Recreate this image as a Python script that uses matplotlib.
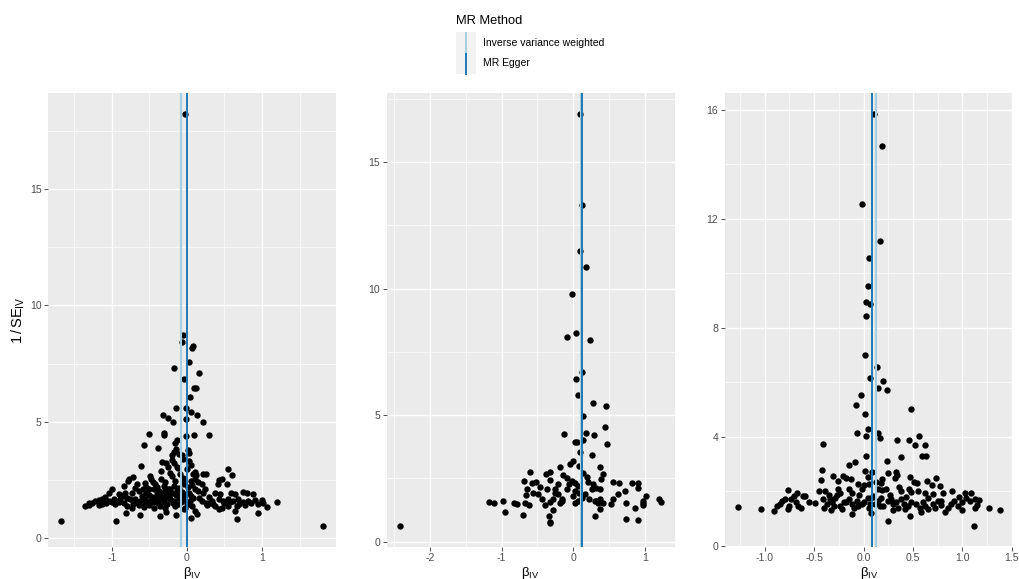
import matplotlib
matplotlib.use('Agg')
import matplotlib.pyplot as plt
import numpy as np
from matplotlib.patches import Rectangle
from matplotlib.lines import Line2D
from matplotlib.ticker import MultipleLocator

plt.rcParams['font.family'] = ['Liberation Sans', 'DejaVu Sans']
plt.rcParams['mathtext.fontset'] = 'custom'
plt.rcParams['mathtext.rm'] = 'Liberation Sans'
plt.rcParams['mathtext.it'] = 'Liberation Sans:italic'

# (beta_IV, 1/SE_IV)
panel1_points = np.array([
    (-0.02, 18.24), (-0.05, 8.72), (-0.07, 8.44), (0.08, 8.26), (0.07, 8.18), (0.027, 7.56),
    (-0.165, 7.29), (0.155, 7.10), (-0.035, 6.83), (0.10, 6.43), (0.12, 6.43), (0.035, 6.06),
    (-0.15, 5.58), (-0.01, 5.58), (0.05, 5.44), (0.13, 5.30), (-0.32, 5.28), (-0.25, 5.15),
    (-0.18, 4.98), (-0.01, 5.13), (0.22, 4.98), (-0.50, 4.47), (-0.30, 4.52), (-0.31, 4.41),
    (-0.01, 4.37), (0.10, 4.41), (0.29, 4.45),
    (-0.567, 4.01), (-0.381, 3.89), (-0.164, 4.07), (-0.133, 4.20), (-0.146, 3.81), (-0.177, 3.69),
    (-0.066, 3.55), (0.013, 3.77), (0.031, 3.67), (-0.332, 3.26), (-0.279, 3.21), (-0.199, 3.35),
    (-0.173, 3.24), (-0.128, 3.06), (0.031, 3.31), (0.058, 3.16), (-0.606, 3.09), (-0.341, 2.88),
    (-0.221, 2.81), (-0.097, 2.76), (0.111, 2.84), (0.12, 2.69), (0.208, 2.76), (0.257, 2.75),
    (0.544, 2.95), (0.606, 2.69), (-0.496, 2.66), (-0.478, 2.52), (-0.722, 2.62), (-0.766, 2.52),
    (-0.784, 2.46), (-0.664, 2.33), (-0.686, 2.16), (-0.553, 2.38), (-0.456, 2.41), (-0.421, 2.33),
    (-0.288, 2.41), (-0.31, 2.23), (-0.164, 2.45), (-0.177, 2.23), (-0.058, 2.48), (-0.04, 2.31),
    (0.066, 2.26), (0.102, 2.55), (0.146, 2.41), (0.199, 2.31), (0.421, 2.48), (0.465, 2.55),
    (0.412, 2.31), (0.536, 2.31), (-0.841, 2.23), (-0.996, 2.09), (-0.907, 1.88), (-0.819, 1.95),
    (-0.73, 1.95), (-0.642, 2.02), (-0.589, 2.09), (-0.509, 2.12), (-0.443, 2.09), (-0.376, 2.02),
    (-0.288, 2.06), (-0.221, 2.09), (-0.133, 2.02), (-0.066, 1.98), (0.022, 1.95), (0.111, 2.09),
    (0.235, 2.09), (0.221, 1.92), (0.376, 1.95), (0.443, 1.88), (0.589, 1.95), (0.642, 1.88),
    (0.753, 1.98), (0.797, 1.92), (0.885, 1.88), (-1.04, 1.92), (-1.085, 1.78), (-1.129, 1.69),
    (-1.173, 1.63), (-1.217, 1.58), (-1.262, 1.52), (-1.306, 1.49), (-0.797, 1.73), (-0.753, 1.66),
    (-0.686, 1.69), (-0.62, 1.59), (-0.553, 1.66), (-0.487, 1.59), (-0.421, 1.69), (-0.354, 1.66),
    (-0.288, 1.73), (-0.221, 1.66), (-0.177, 1.59), (-0.111, 1.73), (-0.044, 1.66), (0.044, 1.59),
    (0.155, 1.73), (0.288, 1.52), (0.332, 1.59), (0.421, 1.66), (0.487, 1.59), (0.553, 1.69),
    (0.62, 1.59), (0.686, 1.66), (0.753, 1.55), (0.81, 1.59), (0.996, 1.63), (1.195, 1.56),
    (-1.04, 1.59), (-0.974, 1.66), (-0.885, 1.69), (-0.841, 1.52), (-1.359, 1.37), (-1.306, 1.40),
    (-1.173, 1.40), (-1.129, 1.45), (-0.797, 1.37), (-0.73, 1.30), (-0.642, 1.40), (-0.575, 1.35),
    (-0.509, 1.40), (-0.443, 1.30), (-0.354, 1.37), (-0.288, 1.30), (-0.155, 1.37), (-0.022, 1.30),
    (0.066, 1.37), (0.266, 1.40), (0.376, 1.37), (0.465, 1.30), (0.553, 1.37), (0.664, 1.37),
    (0.775, 1.40), (0.952, 1.45), (1.018, 1.49), (1.062, 1.35), (-0.806, 1.09), (-0.62, 0.99),
    (-0.354, 0.95), (-0.274, 1.12), (-0.146, 0.97), (-0.044, 1.23), (0.102, 1.16), (0.133, 1.02),
    (0.058, 0.84), (0.421, 1.26), (0.642, 1.16), (0.943, 1.06), (0.673, 0.83),
    (-1.67, 0.74), (-0.94, 0.72), (1.81, 0.52),
    (-0.60, 1.80), (-0.55, 1.95), (-0.50, 1.85), (-0.47, 1.75), (-0.40, 1.90), (-0.35, 1.85),
    (-0.32, 1.95), (-0.27, 1.88), (-0.24, 1.80), (-0.20, 1.92), (-0.14, 1.85), (-0.10, 1.95),
    (-0.07, 1.80), (-0.03, 1.88), (0.05, 1.80), (0.08, 1.70), (-0.58, 1.50), (-0.52, 1.48),
    (-0.45, 1.55), (-0.38, 1.50), (-0.30, 1.55), (-0.26, 1.45), (-0.19, 1.50), (-0.12, 1.45),
    (-0.08, 1.55), (0.00, 1.50), (0.03, 1.45), (-0.68, 1.55), (-0.72, 1.45), (-0.90, 1.55),
    (-0.95, 1.45), (-1.00, 1.55), (-1.08, 1.50), (-0.85, 1.80), (0.20, 1.60), (0.25, 1.50),
    (0.30, 1.75), (0.35, 1.45), (0.50, 1.50), (0.58, 1.55), (0.70, 1.45), (0.85, 1.50),
    (0.90, 1.62), (-0.40, 2.20), (-0.25, 2.10), (-0.10, 2.15), (0.15, 2.00), (0.01, 2.20),
    (-0.55, 2.20), (-0.35, 2.55), (-0.20, 2.65), (-0.05, 2.60), (0.05, 2.45), (-0.12, 3.00),
    (-0.25, 3.05), (-0.05, 3.40), (0.00, 2.95), (-0.10, 3.60), (-0.20, 3.55), (0.08, 2.75),
])

panel2_points = np.array([
    (0.10, 16.9), (0.117, 13.29), (0.10, 11.49), (0.176, 10.85), (-0.014, 9.78), (-0.088, 8.07),
    (0.042, 8.23), (0.236, 7.95), (0.125, 6.69), (0.033, 6.43),
    (0.06, 5.79), (0.28, 5.47), (0.45, 5.36), (0.14, 4.96), (0.44, 4.52), (-0.125, 4.25),
    (0.176, 4.30), (0.287, 4.23), (0.02, 3.94), (0.046, 3.93), (0.13, 4.0), (0.47, 3.84),
    (0.10, 3.54), (0.26, 3.43), (-0.01, 3.17), (-0.046, 3.05), (0.083, 2.98), (0.38, 2.95),
    (-0.185, 2.96),
    (-0.60, 2.75), (-0.38, 2.68), (-0.33, 2.75), (-0.69, 2.39), (-0.58, 2.30), (-0.52, 2.35),
    (-0.32, 2.42), (-0.14, 2.62), (-0.09, 2.52), (-0.02, 2.39), (-0.055, 2.26), (0.023, 2.33),
    (0.07, 2.20), (0.13, 2.72), (0.185, 2.56), (0.41, 2.66), (0.39, 2.46), (0.27, 2.26),
    (0.32, 2.13), (0.37, 2.06), (0.55, 2.37), (0.64, 2.30), (0.82, 2.33), (0.90, 2.13),
    (0.72, 1.99), (-0.37, 2.09), (-0.49, 1.87), (-0.66, 1.83), (-0.56, 1.93), (-0.25, 1.93),
    (-0.21, 1.87), (-0.28, 1.70), (-0.16, 1.70), (-0.32, 1.56), (0.023, 1.54), (0.22, 1.67),
    (0.30, 1.60), (0.35, 1.54), (0.37, 1.67), (0.56, 1.70), (0.74, 1.54), (0.98, 1.60),
    (1.02, 1.80), (1.20, 1.67), (1.23, 1.58), (-1.18, 1.56), (-1.11, 1.51), (-0.98, 1.60),
    (-0.82, 1.54), (-0.79, 1.50), (-0.67, 1.54), (-0.62, 1.43), (-0.95, 1.17), (-0.70, 1.05),
    (-0.28, 1.25), (-0.34, 1.01), (-0.32, 0.78), (-0.33, 0.72), (-0.18, 1.51), (-0.15, 1.60),
    (0.37, 1.30), (0.31, 1.01), (0.52, 1.47), (0.86, 1.34), (0.98, 1.43), (0.73, 0.88),
    (0.90, 0.84), (-2.42, 0.62),
    (0.023, 2.00), (0.083, 1.93), (0.116, 1.74), (0.07, 1.60), (-0.01, 1.80), (-0.09, 2.06),
    (-0.21, 2.26), (-0.25, 2.06), (-0.46, 2.17), (-0.64, 2.06), (0.32, 1.60), (0.42, 1.54),
    (0.255, 2.09), (0.90, 2.33), (0.97, 1.54), (-0.40, 1.45), (-0.44, 1.70), (0.17, 1.90),
    (0.20, 2.35), (0.62, 1.90),
])

panel3_points = np.array([
    (0.11, 15.85), (0.184, 14.68), (-0.018, 12.53), (0.164, 11.17), (0.06, 10.57), (0.046, 9.55),
    (0.025, 8.93), (0.063, 8.89), (0.025, 8.45), (0.012, 7.02), (0.134, 6.57), (0.063, 6.17),
    (0.197, 6.06),
    (0.15, 5.80), (0.24, 5.70), (-0.03, 5.52), (-0.08, 5.15), (0.48, 5.03), (0.01, 4.85),
    (-0.07, 4.13), (0.04, 4.27), (0.02, 4.03), (0.15, 4.13), (0.17, 3.94), (-0.41, 3.72),
    (0.34, 3.87), (0.46, 3.88), (0.56, 4.03), (0.52, 3.69), (0.62, 3.71), (0.59, 3.30),
    (0.63, 3.30), (0.38, 3.26), (0.02, 3.31), (0.24, 3.10), (-0.09, 3.08), (-0.15, 2.95),
    (-0.42, 2.78), (0.01, 2.75), (0.09, 2.72), (0.25, 2.66), (0.33, 2.69), (0.34, 2.59),
    (-0.31, 2.56), (-0.21, 2.56), (-0.18, 2.47), (-0.13, 2.44), (0.04, 2.54), (0.19, 2.44),
    (0.18, 2.32), (0.32, 2.47), (0.47, 2.54), (0.51, 2.34), (0.54, 2.32), (0.735, 2.50),
    (0.64, 2.38), (0.69, 2.22), (0.77, 2.20), (-0.43, 2.42), (-0.26, 2.38), (-0.055, 2.26),
    (0.005, 2.22), (0.13, 2.34), (0.36, 2.17), (-0.76, 2.05), (-0.45, 2.01), (-0.39, 2.01),
    (-0.26, 2.08), (-0.24, 1.95), (-0.15, 2.08), (-0.12, 1.95), (-0.02, 2.08), (0.06, 2.26),
    (0.15, 2.10), (0.19, 2.05), (0.23, 2.08), (0.38, 2.01), (0.46, 2.08), (0.48, 1.98),
    (0.55, 2.01), (0.62, 1.95), (0.70, 1.89), (0.80, 1.95), (0.90, 2.01), (1.03, 1.93),
    (1.09, 1.95), (-0.67, 1.92), (-0.70, 1.83), (-0.61, 1.83), (-0.83, 1.65), (-0.85, 1.53),
    (-0.80, 1.71), (-0.73, 1.71), (-0.595, 1.81), (-0.76, 1.34), (-0.66, 1.47), (-0.63, 1.40),
    (-0.49, 1.56), (-0.41, 1.71), (-0.375, 1.53), (-0.40, 1.37), (-0.33, 1.32), (-0.24, 1.47),
    (-0.22, 1.34), (-0.12, 1.16), (0.08, 1.22), (0.25, 0.92), (0.47, 1.10), (1.27, 1.40),
    (1.38, 1.31), (1.12, 0.73), (-1.27, 1.43), (-1.04, 1.34), (-0.905, 1.28),
    (-0.34, 1.71), (-0.32, 1.59), (-0.29, 1.77), (-0.18, 1.59), (-0.15, 1.71), (-0.12, 1.53),
    (-0.07, 1.65), (-0.055, 1.47), (-0.02, 1.53), (0.046, 1.77), (0.063, 1.53), (0.096, 1.83),
    (0.147, 1.65), (0.18, 1.77), (0.164, 1.47), (0.28, 1.71), (0.30, 1.53), (0.33, 1.59),
    (0.376, 1.71), (0.41, 1.53), (0.417, 1.34), (0.485, 1.59), (0.534, 1.53), (0.568, 1.40),
    (0.619, 1.47), (0.65, 1.34), (0.70, 1.53), (0.75, 1.65), (0.787, 1.49), (0.828, 1.25),
    (0.882, 1.53), (0.92, 1.65), (0.956, 1.47), (0.996, 1.32), (1.04, 1.77), (1.074, 1.65),
    (1.124, 1.71), (1.165, 1.67), (1.124, 1.40),
    (-0.30, 1.45), (-0.20, 1.60), (-0.10, 1.40), (0.00, 1.60), (0.05, 1.40), (0.12, 1.55),
    (0.20, 1.45), (0.25, 1.65), (0.35, 1.40), (0.45, 1.45), (0.60, 1.60), (0.72, 1.38),
    (0.85, 1.40), (1.00, 1.60), (-0.55, 1.60), (-0.68, 1.60), (-0.27, 1.85), (-0.05, 1.85),
    (0.27, 1.85), (0.43, 1.80), (0.65, 1.75), (0.97, 1.80), (1.15, 1.50), (-0.88, 1.45),
    (-0.75, 1.45), (0.30, 1.30), (0.10, 1.80), (-0.35, 1.85), (0.58, 1.25), (0.78, 1.65),
])

# MR estimates drawn as vertical lines: (IVW, MR Egger)
ivw_estimates = [-0.085, 0.105, 0.127]
egger_estimates = [0.002, 0.117, 0.090]

methods = ['Inverse variance weighted', 'MR Egger']
method_colors = ['#a6cee3', '#1f78b4']

y_major = [5, 5, 4]
x_major = [1, 1, 0.5]
x_fmt = ['{:.0f}', '{:.0f}', '{:.1f}']

W, H = 1019, 579
fig = plt.figure(figsize=(W / 100, H / 100), dpi=100)
fig.patch.set_facecolor('white')

lefts = [48.3, 386.7, 725.0]
top_px, bottom_px = 93.3, 546.5
widths = [287.7, 287.8, 288.0]

panels = [panel1_points, panel2_points, panel3_points]
for i, pts in enumerate(panels):
    ax = fig.add_axes([lefts[i] / W, 1 - bottom_px / H, widths[i] / W, (bottom_px - top_px) / H])
    ax.set_facecolor('#EBEBEB')
    for s in ax.spines.values():
        s.set_visible(False)
    ax.scatter(pts[:, 0], pts[:, 1], s=21, color='black', linewidths=0, zorder=3)
    ax.margins(x=0.05, y=0.05)
    ax.axvline(ivw_estimates[i], color=method_colors[0], lw=1.5, zorder=4)
    ax.axvline(egger_estimates[i], color=method_colors[1], lw=1.4, zorder=5)

    ax.xaxis.set_major_locator(MultipleLocator(x_major[i]))
    ax.xaxis.set_minor_locator(MultipleLocator(x_major[i] / 2))
    ax.yaxis.set_major_locator(MultipleLocator(y_major[i]))
    ax.yaxis.set_minor_locator(MultipleLocator(y_major[i] / 2))
    ax.xaxis.set_major_formatter(plt.FuncFormatter(lambda v, p, f=x_fmt[i]: f.format(v)))
    ax.grid(which='major', color='white', lw=1.0, zorder=0)
    ax.grid(which='minor', color='white', lw=0.5, zorder=0)
    ax.set_axisbelow(True)
    ax.tick_params(which='major', length=2.8, width=0.6, color='#333333',
                   labelsize=7.6, labelcolor='#4D4D4D', pad=2)
    ax.tick_params(which='minor', length=0)
    ax.set_xlabel('β$_{\\mathrm{IV}}$', fontsize=9.5, labelpad=1, color='black')
    if i == 0:
        ax.set_ylabel('$1\\,/\\,\\mathrm{SE}_{\\mathrm{IV}}$', fontsize=10.5, labelpad=2, color='black')


def fpx(x, y):
    return x / W, 1 - y / H


# legend drawn at the top
fig.text(*fpx(456.5, 20.5), 'MR Method', fontsize=9.3, va='center', ha='left')
row_tops = [32.0, 53.0]
for j, name in enumerate(methods):
    x0, y0 = fpx(456, row_tops[j] + 21)
    fig.patches.append(Rectangle((x0, y0), 20 / W, 21 / H, transform=fig.transFigure,
                                 facecolor='#F2F2F2', edgecolor='none'))
    xa, ya = fpx(466, row_tops[j] + 0.5)
    xb, yb = fpx(466, row_tops[j] + 20.5)
    fig.lines.append(Line2D([xa, xb], [ya, yb], transform=fig.transFigure,
                            color=method_colors[j], lw=1.4))
    fig.text(*fpx(483, row_tops[j] + 10.5), name, fontsize=7.5, va='center', ha='left')

fig.savefig('out.png', dpi=100)
